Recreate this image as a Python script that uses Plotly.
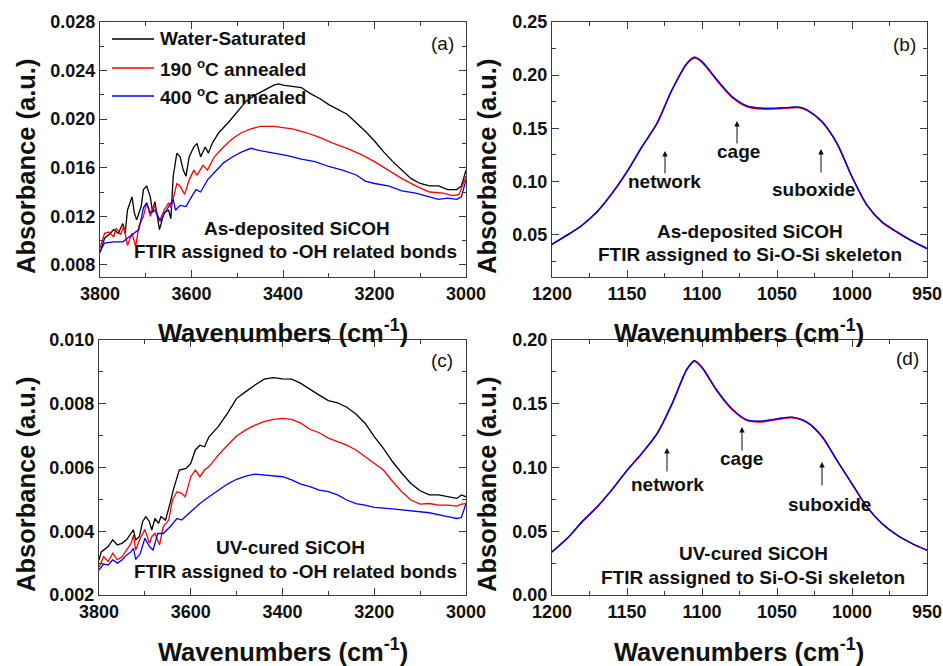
import plotly.graph_objects as go

W, H = 943, 666

# ---------------- data ----------------
series_names = ["Water-Saturated", "190 <sup>o</sup>C annealed", "400 <sup>o</sup>C annealed"]
series_colors = ["#000000", "#ff0000", "#0000ff"]

# (a) As-deposited, -OH region
a_black_x = [3800, 3790, 3780, 3770, 3760, 3750, 3745, 3740, 3730, 3725, 3720, 3710, 3705, 3698, 3690,
             3685, 3680, 3670, 3660, 3650, 3645, 3640, 3632, 3625, 3618, 3612, 3605, 3595, 3588, 3580,
             3570, 3563, 3555, 3540, 3520, 3500, 3480, 3460, 3440, 3420, 3410, 3400, 3380, 3360, 3340,
             3320, 3300, 3280, 3260, 3240, 3220, 3200, 3180, 3160, 3140, 3120, 3100, 3080, 3060, 3040,
             3020, 3010, 3000]
a_black_y = [0.0090, 0.0102, 0.0105, 0.0109, 0.0106, 0.0114, 0.0106, 0.0125, 0.0136, 0.0123, 0.0117, 0.0128,
             0.0142, 0.0145, 0.0136, 0.0123, 0.0132, 0.0109, 0.0123, 0.0125, 0.0118, 0.0153, 0.0172, 0.0169,
             0.0158, 0.0153, 0.0169, 0.0177, 0.0180, 0.0169, 0.0177, 0.0172, 0.0180, 0.0189, 0.0197, 0.0206,
             0.0215, 0.0220, 0.0224, 0.0228, 0.0229, 0.0228, 0.0227, 0.0226, 0.0221, 0.0217, 0.0212, 0.0208,
             0.0204, 0.0197, 0.0190, 0.0182, 0.0173, 0.0165, 0.0158, 0.0151, 0.0147, 0.0145, 0.0145, 0.0142,
             0.0142, 0.0145, 0.0158]
a_red_x = [3800, 3790, 3780, 3770, 3765, 3755, 3748, 3740, 3730, 3722, 3715, 3705, 3698, 3690, 3682, 3670,
           3660, 3650, 3645, 3638, 3632, 3625, 3615, 3605, 3595, 3588, 3575, 3565, 3550, 3530, 3510, 3490,
           3470, 3450, 3420, 3400, 3380, 3350, 3320, 3290, 3260, 3230, 3200, 3170, 3140, 3110, 3080, 3050,
           3030, 3015, 3000]
a_red_y = [0.0094, 0.0106, 0.0107, 0.0103, 0.0110, 0.0105, 0.0112, 0.0096, 0.0106, 0.0095, 0.0112, 0.0120,
           0.0131, 0.0120, 0.0130, 0.0116, 0.0125, 0.0131, 0.0127, 0.0139, 0.0147, 0.0145, 0.0138, 0.0150,
           0.0158, 0.0154, 0.0162, 0.0158, 0.0169, 0.0177, 0.0184, 0.0189, 0.0192, 0.0194, 0.0194, 0.0193,
           0.0192, 0.0189, 0.0185, 0.0180, 0.0176, 0.0171, 0.0165, 0.0158, 0.0151, 0.0145, 0.0140, 0.0139,
           0.0137, 0.0138, 0.0153]
a_blue_x = [3800, 3790, 3770, 3750, 3740, 3725, 3715, 3705, 3698, 3690, 3680, 3668, 3655, 3640, 3635, 3625,
            3612, 3600, 3590, 3580, 3565, 3550, 3530, 3510, 3490, 3470, 3450, 3420, 3390, 3360, 3330, 3300,
            3270, 3240, 3220, 3200, 3170, 3140, 3110, 3080, 3060, 3040, 3020, 3010, 3000]
a_blue_y = [0.0091, 0.0098, 0.0099, 0.0099, 0.0102, 0.0106, 0.0109, 0.0127, 0.0131, 0.0123, 0.0125, 0.0116,
            0.0125, 0.0134, 0.0125, 0.0129, 0.0128, 0.0136, 0.0142, 0.0140, 0.0150, 0.0156, 0.0164, 0.0169,
            0.0173, 0.0176, 0.0174, 0.0172, 0.0170, 0.0167, 0.0165, 0.0161, 0.0158, 0.0154, 0.0149, 0.0147,
            0.0145, 0.0141, 0.0139, 0.0136, 0.0134, 0.0135, 0.0134, 0.0136, 0.0150]

# (c) UV-cured, -OH region
c_black_x = [3800, 3795, 3780, 3770, 3760, 3750, 3740, 3730, 3725, 3720, 3712, 3705, 3698, 3690, 3685,
             3678, 3670, 3665, 3655, 3645, 3638, 3625, 3610, 3600, 3590, 3580, 3570, 3560, 3540, 3520,
             3500, 3480, 3460, 3440, 3420, 3400, 3380, 3360, 3340, 3320, 3300, 3280, 3260, 3240, 3220,
             3200, 3180, 3160, 3140, 3120, 3100, 3080, 3060, 3040, 3020, 3010, 3000]
c_black_y = [0.00310, 0.00335, 0.00352, 0.00373, 0.00357, 0.00362, 0.00373, 0.00393, 0.00404, 0.00373,
             0.00383, 0.00430, 0.00446, 0.00430, 0.00404, 0.00440, 0.00425, 0.00446, 0.00435, 0.00488,
             0.00530, 0.00592, 0.00597, 0.00613, 0.00655, 0.00670, 0.00665, 0.00697, 0.00728, 0.00770,
             0.00817, 0.00838, 0.00859, 0.00877, 0.00882, 0.00878, 0.00877, 0.00864, 0.00845, 0.00827,
             0.00810, 0.00803, 0.00789, 0.00768, 0.00739, 0.00697, 0.00660, 0.00618, 0.00582, 0.00550,
             0.00527, 0.00514, 0.00514, 0.00508, 0.00503, 0.00514, 0.00508]
c_red_x = [3800, 3790, 3780, 3770, 3760, 3750, 3740, 3730, 3725, 3720, 3710, 3700, 3690, 3685, 3678, 3668,
           3660, 3648, 3640, 3630, 3620, 3612, 3600, 3590, 3580, 3570, 3560, 3540, 3520, 3500, 3480, 3460,
           3440, 3420, 3400, 3380, 3360, 3340, 3320, 3300, 3280, 3260, 3240, 3220, 3200, 3180, 3160, 3140,
           3120, 3100, 3080, 3060, 3040, 3020, 3010, 3000]
c_red_y = [0.00287, 0.00320, 0.00305, 0.00331, 0.00310, 0.00320, 0.00341, 0.00362, 0.00388, 0.00341,
           0.00378, 0.00406, 0.00362, 0.00383, 0.00393, 0.00357, 0.00414, 0.00435, 0.00498, 0.00524,
           0.00519, 0.00508, 0.00571, 0.00592, 0.00571, 0.00592, 0.00603, 0.00639, 0.00670, 0.00699,
           0.00718, 0.00733, 0.00744, 0.00751, 0.00754, 0.00751, 0.00739, 0.00720, 0.00709, 0.00692,
           0.00681, 0.00670, 0.00655, 0.00634, 0.00613, 0.00592, 0.00556, 0.00524, 0.00498, 0.00485,
           0.00487, 0.00482, 0.00482, 0.00479, 0.00485, 0.00487]
c_blue_x = [3800, 3790, 3780, 3770, 3760, 3750, 3740, 3730, 3725, 3720, 3710, 3700, 3690, 3682, 3672,
            3660, 3645, 3630, 3620, 3600, 3580, 3560, 3540, 3520, 3500, 3480, 3460, 3440, 3420, 3400,
            3380, 3360, 3340, 3320, 3300, 3280, 3260, 3240, 3220, 3200, 3160, 3120, 3080, 3040, 3020,
            3010, 3000]
c_blue_y = [0.00278, 0.00297, 0.00294, 0.00310, 0.00300, 0.00310, 0.00325, 0.00336, 0.00346, 0.00312,
            0.00330, 0.00378, 0.00352, 0.00341, 0.00393, 0.00393, 0.00414, 0.00440, 0.00435, 0.00461,
            0.00487, 0.00508, 0.00529, 0.00548, 0.00563, 0.00573, 0.00579, 0.00576, 0.00574, 0.00571,
            0.00561, 0.00548, 0.00540, 0.00529, 0.00524, 0.00514, 0.00498, 0.00487, 0.00482, 0.00475,
            0.00470, 0.00465, 0.00458, 0.00446, 0.00440, 0.00443, 0.00487]

# (b) As-deposited, Si-O-Si region
b_x = [1200, 1190, 1180, 1170, 1160, 1150, 1140, 1130, 1120, 1110, 1105, 1100, 1090, 1080, 1070,
       1060, 1050, 1040, 1035, 1030, 1020, 1010, 1000, 990, 980, 970, 960, 950]
b_black_y = [0.0409, 0.0494, 0.0588, 0.0714, 0.0887, 0.1091, 0.1327, 0.1547, 0.1862, 0.2113, 0.2168,
             0.2127, 0.1954, 0.1797, 0.1709, 0.1687, 0.1688, 0.1697, 0.1697, 0.1672, 0.1562, 0.1357,
             0.1043, 0.0776, 0.0618, 0.0524, 0.0440, 0.0368]
b_red_y = [0.0405, 0.0490, 0.0585, 0.0711, 0.0884, 0.1088, 0.1324, 0.1543, 0.1857, 0.2105, 0.2160,
           0.2120, 0.1946, 0.1790, 0.1702, 0.1680, 0.1682, 0.1692, 0.1693, 0.1668, 0.1558, 0.1353,
           0.1040, 0.0773, 0.0614, 0.0520, 0.0436, 0.0364]
b_blue_y = [0.0409, 0.0494, 0.0588, 0.0714, 0.0887, 0.1091, 0.1327, 0.1547, 0.1862, 0.2113, 0.2170,
            0.2129, 0.1956, 0.1799, 0.1711, 0.1689, 0.1689, 0.1698, 0.1698, 0.1673, 0.1563, 0.1358,
            0.1044, 0.0777, 0.0619, 0.0525, 0.0440, 0.0368]

# (d) UV-cured, Si-O-Si region
d_x = [1200, 1190, 1180, 1170, 1160, 1150, 1140, 1130, 1120, 1110, 1105, 1100, 1090, 1080, 1070,
       1060, 1050, 1040, 1030, 1020, 1010, 1000, 990, 980, 970, 960, 950]
d_black_y = [0.0339, 0.0443, 0.0574, 0.0691, 0.0827, 0.0978, 0.1113, 0.1265, 0.1499, 0.1772, 0.1836,
             0.1785, 0.1603, 0.1459, 0.1372, 0.1362, 0.1380, 0.1393, 0.1355, 0.1243, 0.1055, 0.0872,
             0.0690, 0.0561, 0.0470, 0.0404, 0.0352]
d_red_y = [0.0336, 0.0440, 0.0570, 0.0688, 0.0824, 0.0974, 0.1110, 0.1262, 0.1495, 0.1767, 0.1830,
           0.1780, 0.1598, 0.1454, 0.1367, 0.1357, 0.1376, 0.1389, 0.1351, 0.1239, 0.1052, 0.0869,
           0.0688, 0.0559, 0.0468, 0.0402, 0.0350]
d_blue_y = [0.0339, 0.0443, 0.0574, 0.0691, 0.0827, 0.0978, 0.1113, 0.1265, 0.1499, 0.1773, 0.1838,
            0.1786, 0.1604, 0.1460, 0.1374, 0.1364, 0.1382, 0.1395, 0.1356, 0.1244, 0.1056, 0.0873,
            0.0691, 0.0561, 0.0470, 0.0404, 0.0352]

panel_labels = ["(a)", "(b)", "(c)", "(d)"]
sample_texts = ["As-deposited SiCOH", "As-deposited SiCOH", "UV-cured SiCOH", "UV-cured SiCOH"]
assign_texts = ["FTIR assigned to -OH related bonds", "FTIR assigned to Si-O-Si skeleton",
                "FTIR assigned to -OH related bonds", "FTIR assigned to Si-O-Si skeleton"]
peak_names = ["network", "cage", "suboxide"]
x_title = "Wavenumbers (cm<sup>-1</sup>)"
y_title = "Absorbance (a.u.)"

# ---------------- layout helpers (screen pixel -> paper fraction) ----------------
def pxx(x):
    return x / W

def pxy(y):
    return 1 - y / H

FONT = "Arial, 'Liberation Sans', sans-serif"
AXC = "#3a3a3a"

fig = go.Figure()

panels = [
    ("x", "y", [(a_black_x, a_black_y), (a_red_x, a_red_y), (a_blue_x, a_blue_y)], "linear"),
    ("x2", "y2", [(b_x, b_black_y), (b_x, b_red_y), (b_x, b_blue_y)], "spline"),
    ("x3", "y3", [(c_black_x, c_black_y), (c_red_x, c_red_y), (c_blue_x, c_blue_y)], "linear"),
    ("x4", "y4", [(d_x, d_black_y), (d_x, d_red_y), (d_x, d_blue_y)], "spline"),
]
for xa, ya, curves, shape in panels:
    for i, (xs, ys) in enumerate(curves):
        fig.add_trace(go.Scatter(x=xs, y=ys, mode="lines", xaxis=xa, yaxis=ya,
                                 line=dict(color=series_colors[i], width=1.3, shape=shape,
                                           smoothing=0.8 if shape == "spline" else None),
                                 name=series_names[i], showlegend=False))

# plot-area screen pixel boxes (left, right, top, bottom)
boxes = [(100, 466, 22, 277), (552, 927, 22, 277), (99, 466, 340, 595), (552, 927, 340, 595)]

TICKFONT = dict(family=FONT, size=18, color="#111", weight="bold")

def xaxis_cfg(box, rng, dtick, mdtick, anchor):
    return dict(domain=[pxx(box[0]), pxx(box[1])], range=rng, anchor=anchor,
                dtick=dtick, tick0=0, tickformat="d", automargin=False,
                ticks="inside", ticklen=7, tickwidth=1, tickcolor=AXC,
                minor=dict(dtick=mdtick, tick0=0, ticks="inside", ticklen=4, tickcolor=AXC),
                showline=True, linecolor=AXC, linewidth=1.2, mirror="ticks",
                showgrid=False, zeroline=False, tickfont=TICKFONT)

def yaxis_cfg(box, rng, dtick, mdtick, fmt, anchor, tick0=0):
    return dict(domain=[pxy(box[3]), pxy(box[2])], range=rng, anchor=anchor,
                dtick=dtick, tick0=tick0, tickformat=fmt, automargin=False,
                ticks="inside", ticklen=7, tickwidth=1, tickcolor=AXC,
                minor=dict(dtick=mdtick, tick0=tick0, ticks="inside", ticklen=4, tickcolor=AXC),
                showline=True, linecolor=AXC, linewidth=1.2, mirror="ticks",
                showgrid=False, zeroline=False, tickfont=TICKFONT)

fig.update_layout(
    width=W, height=H, margin=dict(l=0, r=0, t=0, b=0, pad=0),
    paper_bgcolor="white", plot_bgcolor="white", showlegend=False,
    xaxis=xaxis_cfg(boxes[0], [3800, 3000], 200, 100, "y"),
    yaxis=yaxis_cfg(boxes[0], [0.007, 0.028], 0.004, 0.002, ".3f", "x", tick0=0.008),
    xaxis2=xaxis_cfg(boxes[1], [1200, 950], 50, 25, "y2"),
    yaxis2=yaxis_cfg(boxes[1], [0.01, 0.25], 0.05, 0.025, ".2f", "x2"),
    xaxis3=xaxis_cfg(boxes[2], [3800, 3000], 200, 100, "y3"),
    yaxis3=yaxis_cfg(boxes[2], [0.002, 0.010], 0.002, 0.001, ".3f", "x3"),
    xaxis4=xaxis_cfg(boxes[3], [1200, 950], 50, 25, "y4"),
    yaxis4=yaxis_cfg(boxes[3], [0.0, 0.20], 0.05, 0.025, ".2f", "x4"),
)

ann = []
def text(x, y, t, size=19, bold=True, angle=0, xanchor="center"):
    ann.append(dict(x=pxx(x), y=pxy(y), xref="paper", yref="paper", showarrow=False,
                    text=("<b>%s</b>" % t) if bold else t, textangle=angle,
                    xanchor=xanchor, yanchor="middle", borderpad=0,
                    font=dict(family=FONT, size=size, color="#111")))

def arrow(x, ytip, ytail):
    ann.append(dict(x=pxx(x), y=pxy(ytip), xref="paper", yref="paper", showarrow=True,
                    ax=0, ay=ytail - ytip, arrowhead=2, arrowsize=1.1, arrowwidth=1,
                    arrowcolor="#111", text=""))

# axis titles
for cx, cy in [(283, 331), (739, 331), (283, 650), (739, 650)]:
    text(cx, cy, x_title, size=25.5)
for cx, cy in [(26, 167), (487, 167), (26, 485), (487, 485)]:
    text(cx, cy, y_title, size=25.5, angle=-90)

# panel labels
for (lx, ly), lab in zip([(442, 44), (904, 45), (442, 360), (907, 358)], panel_labels):
    text(lx, ly, lab, size=19, bold=False)

# sample / assignment texts
for (sx, sy, fx, fy), s, f in zip([(297, 228, 295, 251), (750, 231, 750, 255),
                                   (290, 547, 295, 571), (753, 553, 753, 577)],
                                  sample_texts, assign_texts):
    text(sx, sy, s)
    text(fx, fy, f)

# legend in panel (a)
for i, yy in enumerate([39, 68, 96]):
    fig.add_shape(type="line", xref="paper", yref="paper",
                  x0=pxx(112), x1=pxx(154), y0=pxy(yy), y1=pxy(yy),
                  line=dict(color=series_colors[i], width=1.3))
    text(159, yy, series_names[i], xanchor="left")

# peak markers panel (b)
arrow(665, 151, 175); text(664, 181, peak_names[0])
arrow(737, 121, 145); text(738, 152, peak_names[1])
arrow(821, 149, 174); text(813, 189, peak_names[2])
# peak markers panel (d)
arrow(667, 448, 473); text(667, 484, peak_names[0])
arrow(742, 427, 452); text(741, 459, peak_names[1])
arrow(822, 462, 487); text(829, 504, peak_names[2])

fig.update_layout(annotations=ann)
fig.write_html(
    "out.html",
    config={"displayModeBar": False},
    post_script=("document.documentElement.style.margin='0';"
                 "document.body.style.margin='0';"
                 "document.body.style.overflow='hidden';"
                 "document.documentElement.style.overflow='hidden';"),
)
